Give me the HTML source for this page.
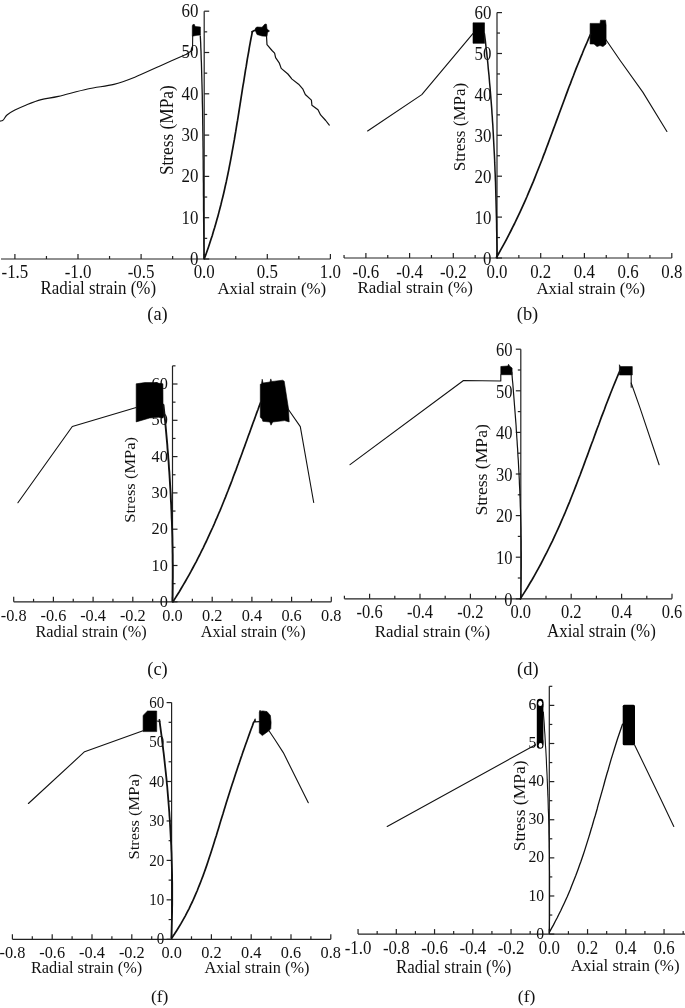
<!DOCTYPE html>
<html><head><meta charset="utf-8"><style>
html,body{margin:0;padding:0;background:#fff;}
svg{display:block;}
text{font-family:'Liberation Serif','Times New Roman',serif;fill:#111;}
</style></head><body>
<svg width="685" height="1008" viewBox="0 0 685 1008">
<rect width="685" height="1008" fill="#fff"/>
<line x1="1.02" y1="259.00" x2="330.40" y2="259.00" stroke="#222" stroke-width="1.2"/>
<line x1="14.90" y1="259.00" x2="14.90" y2="254.00" stroke="#222" stroke-width="1.2"/>
<line x1="46.45" y1="259.00" x2="46.45" y2="256.00" stroke="#222" stroke-width="1.2"/>
<line x1="78.00" y1="259.00" x2="78.00" y2="254.00" stroke="#222" stroke-width="1.2"/>
<line x1="109.55" y1="259.00" x2="109.55" y2="256.00" stroke="#222" stroke-width="1.2"/>
<line x1="141.10" y1="259.00" x2="141.10" y2="254.00" stroke="#222" stroke-width="1.2"/>
<line x1="172.65" y1="259.00" x2="172.65" y2="256.00" stroke="#222" stroke-width="1.2"/>
<line x1="204.20" y1="259.00" x2="204.20" y2="254.00" stroke="#222" stroke-width="1.2"/>
<line x1="235.75" y1="259.00" x2="235.75" y2="256.00" stroke="#222" stroke-width="1.2"/>
<line x1="267.30" y1="259.00" x2="267.30" y2="254.00" stroke="#222" stroke-width="1.2"/>
<line x1="298.85" y1="259.00" x2="298.85" y2="256.00" stroke="#222" stroke-width="1.2"/>
<line x1="330.40" y1="259.00" x2="330.40" y2="254.00" stroke="#222" stroke-width="1.2"/>
<line x1="204.20" y1="259.00" x2="204.20" y2="11.20" stroke="#222" stroke-width="1.2"/>
<line x1="204.20" y1="259.00" x2="209.20" y2="259.00" stroke="#222" stroke-width="1.2"/>
<line x1="204.20" y1="238.35" x2="207.20" y2="238.35" stroke="#222" stroke-width="1.2"/>
<line x1="204.20" y1="217.70" x2="209.20" y2="217.70" stroke="#222" stroke-width="1.2"/>
<line x1="204.20" y1="197.05" x2="207.20" y2="197.05" stroke="#222" stroke-width="1.2"/>
<line x1="204.20" y1="176.40" x2="209.20" y2="176.40" stroke="#222" stroke-width="1.2"/>
<line x1="204.20" y1="155.75" x2="207.20" y2="155.75" stroke="#222" stroke-width="1.2"/>
<line x1="204.20" y1="135.10" x2="209.20" y2="135.10" stroke="#222" stroke-width="1.2"/>
<line x1="204.20" y1="114.45" x2="207.20" y2="114.45" stroke="#222" stroke-width="1.2"/>
<line x1="204.20" y1="93.80" x2="209.20" y2="93.80" stroke="#222" stroke-width="1.2"/>
<line x1="204.20" y1="73.15" x2="207.20" y2="73.15" stroke="#222" stroke-width="1.2"/>
<line x1="204.20" y1="52.50" x2="209.20" y2="52.50" stroke="#222" stroke-width="1.2"/>
<line x1="204.20" y1="31.85" x2="207.20" y2="31.85" stroke="#222" stroke-width="1.2"/>
<line x1="204.20" y1="11.20" x2="209.20" y2="11.20" stroke="#222" stroke-width="1.2"/>
<text x="0" y="0" transform="translate(14.90,277.70) scale(1,1.11)" font-size="16.9" text-anchor="middle">-1.5</text>
<text x="0" y="0" transform="translate(78.00,277.70) scale(1,1.11)" font-size="16.9" text-anchor="middle">-1.0</text>
<text x="0" y="0" transform="translate(141.10,277.70) scale(1,1.11)" font-size="16.9" text-anchor="middle">-0.5</text>
<text x="0" y="0" transform="translate(204.20,277.70) scale(1,1.11)" font-size="16.9" text-anchor="middle">0.0</text>
<text x="0" y="0" transform="translate(267.30,277.70) scale(1,1.11)" font-size="16.9" text-anchor="middle">0.5</text>
<text x="0" y="0" transform="translate(330.40,277.70) scale(1,1.11)" font-size="16.9" text-anchor="middle">1.0</text>
<text x="0" y="0" transform="translate(198.50,264.90) scale(1,1.11)" font-size="16.9" text-anchor="end">0</text>
<text x="0" y="0" transform="translate(198.50,223.60) scale(1,1.11)" font-size="16.9" text-anchor="end">10</text>
<text x="0" y="0" transform="translate(198.50,182.30) scale(1,1.11)" font-size="16.9" text-anchor="end">20</text>
<text x="0" y="0" transform="translate(198.50,141.00) scale(1,1.11)" font-size="16.9" text-anchor="end">30</text>
<text x="0" y="0" transform="translate(198.50,99.70) scale(1,1.11)" font-size="16.9" text-anchor="end">40</text>
<text x="0" y="0" transform="translate(198.50,58.40) scale(1,1.11)" font-size="16.9" text-anchor="end">50</text>
<text x="0" y="0" transform="translate(198.50,17.10) scale(1,1.11)" font-size="16.9" text-anchor="end">60</text>
<text x="0" y="0" transform="translate(40.60,294.20) scale(1,1.07)" font-size="16.9" text-anchor="start">Radial strain (%)</text>
<text x="217.40" y="293.80" font-size="16.9" text-anchor="start">Axial strain (%)</text>
<text x="0" y="0" transform="translate(173.00,130.20) rotate(-90) scale(1,1.06)" font-size="17.3" text-anchor="middle">Stress (MPa)</text>
<text x="157.50" y="319.90" font-size="18.4" text-anchor="middle">(a)</text>
<line x1="344.05" y1="258.00" x2="671.80" y2="258.00" stroke="#222" stroke-width="1.2"/>
<line x1="344.05" y1="258.00" x2="344.05" y2="255.00" stroke="#222" stroke-width="1.2"/>
<line x1="365.90" y1="258.00" x2="365.90" y2="253.00" stroke="#222" stroke-width="1.2"/>
<line x1="387.75" y1="258.00" x2="387.75" y2="255.00" stroke="#222" stroke-width="1.2"/>
<line x1="409.60" y1="258.00" x2="409.60" y2="253.00" stroke="#222" stroke-width="1.2"/>
<line x1="431.45" y1="258.00" x2="431.45" y2="255.00" stroke="#222" stroke-width="1.2"/>
<line x1="453.30" y1="258.00" x2="453.30" y2="253.00" stroke="#222" stroke-width="1.2"/>
<line x1="475.15" y1="258.00" x2="475.15" y2="255.00" stroke="#222" stroke-width="1.2"/>
<line x1="497.00" y1="258.00" x2="497.00" y2="253.00" stroke="#222" stroke-width="1.2"/>
<line x1="518.85" y1="258.00" x2="518.85" y2="255.00" stroke="#222" stroke-width="1.2"/>
<line x1="540.70" y1="258.00" x2="540.70" y2="253.00" stroke="#222" stroke-width="1.2"/>
<line x1="562.55" y1="258.00" x2="562.55" y2="255.00" stroke="#222" stroke-width="1.2"/>
<line x1="584.40" y1="258.00" x2="584.40" y2="253.00" stroke="#222" stroke-width="1.2"/>
<line x1="606.25" y1="258.00" x2="606.25" y2="255.00" stroke="#222" stroke-width="1.2"/>
<line x1="628.10" y1="258.00" x2="628.10" y2="253.00" stroke="#222" stroke-width="1.2"/>
<line x1="649.95" y1="258.00" x2="649.95" y2="255.00" stroke="#222" stroke-width="1.2"/>
<line x1="671.80" y1="258.00" x2="671.80" y2="253.00" stroke="#222" stroke-width="1.2"/>
<line x1="497.00" y1="258.00" x2="497.00" y2="12.60" stroke="#222" stroke-width="1.2"/>
<line x1="497.00" y1="258.00" x2="502.00" y2="258.00" stroke="#222" stroke-width="1.2"/>
<line x1="497.00" y1="237.55" x2="500.00" y2="237.55" stroke="#222" stroke-width="1.2"/>
<line x1="497.00" y1="217.10" x2="502.00" y2="217.10" stroke="#222" stroke-width="1.2"/>
<line x1="497.00" y1="196.65" x2="500.00" y2="196.65" stroke="#222" stroke-width="1.2"/>
<line x1="497.00" y1="176.20" x2="502.00" y2="176.20" stroke="#222" stroke-width="1.2"/>
<line x1="497.00" y1="155.75" x2="500.00" y2="155.75" stroke="#222" stroke-width="1.2"/>
<line x1="497.00" y1="135.30" x2="502.00" y2="135.30" stroke="#222" stroke-width="1.2"/>
<line x1="497.00" y1="114.85" x2="500.00" y2="114.85" stroke="#222" stroke-width="1.2"/>
<line x1="497.00" y1="94.40" x2="502.00" y2="94.40" stroke="#222" stroke-width="1.2"/>
<line x1="497.00" y1="73.95" x2="500.00" y2="73.95" stroke="#222" stroke-width="1.2"/>
<line x1="497.00" y1="53.50" x2="502.00" y2="53.50" stroke="#222" stroke-width="1.2"/>
<line x1="497.00" y1="33.05" x2="500.00" y2="33.05" stroke="#222" stroke-width="1.2"/>
<line x1="497.00" y1="12.60" x2="502.00" y2="12.60" stroke="#222" stroke-width="1.2"/>
<text x="0" y="0" transform="translate(365.90,277.50) scale(1,1.11)" font-size="16.9" text-anchor="middle">-0.6</text>
<text x="0" y="0" transform="translate(409.60,277.50) scale(1,1.11)" font-size="16.9" text-anchor="middle">-0.4</text>
<text x="0" y="0" transform="translate(453.30,277.50) scale(1,1.11)" font-size="16.9" text-anchor="middle">-0.2</text>
<text x="0" y="0" transform="translate(497.00,277.50) scale(1,1.11)" font-size="16.9" text-anchor="middle">0.0</text>
<text x="0" y="0" transform="translate(540.70,277.50) scale(1,1.11)" font-size="16.9" text-anchor="middle">0.2</text>
<text x="0" y="0" transform="translate(584.40,277.50) scale(1,1.11)" font-size="16.9" text-anchor="middle">0.4</text>
<text x="0" y="0" transform="translate(628.10,277.50) scale(1,1.11)" font-size="16.9" text-anchor="middle">0.6</text>
<text x="0" y="0" transform="translate(671.80,277.50) scale(1,1.11)" font-size="16.9" text-anchor="middle">0.8</text>
<text x="0" y="0" transform="translate(491.40,264.70) scale(1,1.11)" font-size="16.9" text-anchor="end">0</text>
<text x="0" y="0" transform="translate(491.40,223.80) scale(1,1.11)" font-size="16.9" text-anchor="end">10</text>
<text x="0" y="0" transform="translate(491.40,182.90) scale(1,1.11)" font-size="16.9" text-anchor="end">20</text>
<text x="0" y="0" transform="translate(491.40,142.00) scale(1,1.11)" font-size="16.9" text-anchor="end">30</text>
<text x="0" y="0" transform="translate(491.40,101.10) scale(1,1.11)" font-size="16.9" text-anchor="end">40</text>
<text x="0" y="0" transform="translate(491.40,60.20) scale(1,1.11)" font-size="16.9" text-anchor="end">50</text>
<text x="0" y="0" transform="translate(491.40,19.30) scale(1,1.11)" font-size="16.9" text-anchor="end">60</text>
<text x="0" y="0" transform="translate(357.60,292.90) scale(1,1.03)" font-size="16.9" text-anchor="start">Radial strain (%)</text>
<text x="0" y="0" transform="translate(536.40,293.80) scale(1,1.03)" font-size="16.9" text-anchor="start">Axial strain (%)</text>
<text x="0" y="0" transform="translate(464.60,127.00) rotate(-90) scale(1,0.98)" font-size="17.0" text-anchor="middle">Stress (MPa)</text>
<text x="527.50" y="319.90" font-size="18.4" text-anchor="middle">(b)</text>
<line x1="13.70" y1="601.80" x2="331.30" y2="601.80" stroke="#222" stroke-width="1.2"/>
<line x1="13.70" y1="601.80" x2="13.70" y2="596.80" stroke="#222" stroke-width="1.2"/>
<line x1="33.55" y1="601.80" x2="33.55" y2="598.80" stroke="#222" stroke-width="1.2"/>
<line x1="53.40" y1="601.80" x2="53.40" y2="596.80" stroke="#222" stroke-width="1.2"/>
<line x1="73.25" y1="601.80" x2="73.25" y2="598.80" stroke="#222" stroke-width="1.2"/>
<line x1="93.10" y1="601.80" x2="93.10" y2="596.80" stroke="#222" stroke-width="1.2"/>
<line x1="112.95" y1="601.80" x2="112.95" y2="598.80" stroke="#222" stroke-width="1.2"/>
<line x1="132.80" y1="601.80" x2="132.80" y2="596.80" stroke="#222" stroke-width="1.2"/>
<line x1="152.65" y1="601.80" x2="152.65" y2="598.80" stroke="#222" stroke-width="1.2"/>
<line x1="172.50" y1="601.80" x2="172.50" y2="596.80" stroke="#222" stroke-width="1.2"/>
<line x1="192.35" y1="601.80" x2="192.35" y2="598.80" stroke="#222" stroke-width="1.2"/>
<line x1="212.20" y1="601.80" x2="212.20" y2="596.80" stroke="#222" stroke-width="1.2"/>
<line x1="232.05" y1="601.80" x2="232.05" y2="598.80" stroke="#222" stroke-width="1.2"/>
<line x1="251.90" y1="601.80" x2="251.90" y2="596.80" stroke="#222" stroke-width="1.2"/>
<line x1="271.75" y1="601.80" x2="271.75" y2="598.80" stroke="#222" stroke-width="1.2"/>
<line x1="291.60" y1="601.80" x2="291.60" y2="596.80" stroke="#222" stroke-width="1.2"/>
<line x1="311.45" y1="601.80" x2="311.45" y2="598.80" stroke="#222" stroke-width="1.2"/>
<line x1="331.30" y1="601.80" x2="331.30" y2="596.80" stroke="#222" stroke-width="1.2"/>
<line x1="172.50" y1="601.80" x2="172.50" y2="365.85" stroke="#222" stroke-width="1.2"/>
<line x1="172.50" y1="601.80" x2="177.50" y2="601.80" stroke="#222" stroke-width="1.2"/>
<line x1="172.50" y1="583.65" x2="175.50" y2="583.65" stroke="#222" stroke-width="1.2"/>
<line x1="172.50" y1="565.50" x2="177.50" y2="565.50" stroke="#222" stroke-width="1.2"/>
<line x1="172.50" y1="547.35" x2="175.50" y2="547.35" stroke="#222" stroke-width="1.2"/>
<line x1="172.50" y1="529.20" x2="177.50" y2="529.20" stroke="#222" stroke-width="1.2"/>
<line x1="172.50" y1="511.05" x2="175.50" y2="511.05" stroke="#222" stroke-width="1.2"/>
<line x1="172.50" y1="492.90" x2="177.50" y2="492.90" stroke="#222" stroke-width="1.2"/>
<line x1="172.50" y1="474.75" x2="175.50" y2="474.75" stroke="#222" stroke-width="1.2"/>
<line x1="172.50" y1="456.60" x2="177.50" y2="456.60" stroke="#222" stroke-width="1.2"/>
<line x1="172.50" y1="438.45" x2="175.50" y2="438.45" stroke="#222" stroke-width="1.2"/>
<line x1="172.50" y1="420.30" x2="177.50" y2="420.30" stroke="#222" stroke-width="1.2"/>
<line x1="172.50" y1="402.15" x2="175.50" y2="402.15" stroke="#222" stroke-width="1.2"/>
<line x1="172.50" y1="384.00" x2="177.50" y2="384.00" stroke="#222" stroke-width="1.2"/>
<line x1="172.50" y1="365.85" x2="175.50" y2="365.85" stroke="#222" stroke-width="1.2"/>
<text x="13.70" y="620.80" font-size="16.3" text-anchor="middle">-0.8</text>
<text x="53.40" y="620.80" font-size="16.3" text-anchor="middle">-0.6</text>
<text x="93.10" y="620.80" font-size="16.3" text-anchor="middle">-0.4</text>
<text x="132.80" y="620.80" font-size="16.3" text-anchor="middle">-0.2</text>
<text x="172.50" y="620.80" font-size="16.3" text-anchor="middle">0.0</text>
<text x="212.20" y="620.80" font-size="16.3" text-anchor="middle">0.2</text>
<text x="251.90" y="620.80" font-size="16.3" text-anchor="middle">0.4</text>
<text x="291.60" y="620.80" font-size="16.3" text-anchor="middle">0.6</text>
<text x="331.30" y="620.80" font-size="16.3" text-anchor="middle">0.8</text>
<text x="167.90" y="606.80" font-size="16.3" text-anchor="end">0</text>
<text x="167.90" y="570.50" font-size="16.3" text-anchor="end">10</text>
<text x="167.90" y="534.20" font-size="16.3" text-anchor="end">20</text>
<text x="167.90" y="497.90" font-size="16.3" text-anchor="end">30</text>
<text x="167.90" y="461.60" font-size="16.3" text-anchor="end">40</text>
<text x="167.90" y="425.30" font-size="16.3" text-anchor="end">50</text>
<text x="167.90" y="389.00" font-size="16.3" text-anchor="end">60</text>
<text x="35.50" y="636.60" font-size="16.3" text-anchor="start">Radial strain (%)</text>
<text x="200.70" y="636.60" font-size="16.3" text-anchor="start">Axial strain (%)</text>
<text x="0" y="0" transform="translate(135.00,479.80) rotate(-90) scale(1,0.93)" font-size="16.5" text-anchor="middle">Stress (MPa)</text>
<text x="157.50" y="675.00" font-size="18.4" text-anchor="middle">(c)</text>
<line x1="344.40" y1="598.80" x2="672.00" y2="598.80" stroke="#222" stroke-width="1.2"/>
<line x1="344.40" y1="598.80" x2="344.40" y2="595.80" stroke="#222" stroke-width="1.2"/>
<line x1="369.60" y1="598.80" x2="369.60" y2="593.80" stroke="#222" stroke-width="1.2"/>
<line x1="394.80" y1="598.80" x2="394.80" y2="595.80" stroke="#222" stroke-width="1.2"/>
<line x1="420.00" y1="598.80" x2="420.00" y2="593.80" stroke="#222" stroke-width="1.2"/>
<line x1="445.20" y1="598.80" x2="445.20" y2="595.80" stroke="#222" stroke-width="1.2"/>
<line x1="470.40" y1="598.80" x2="470.40" y2="593.80" stroke="#222" stroke-width="1.2"/>
<line x1="495.60" y1="598.80" x2="495.60" y2="595.80" stroke="#222" stroke-width="1.2"/>
<line x1="520.80" y1="598.80" x2="520.80" y2="593.80" stroke="#222" stroke-width="1.2"/>
<line x1="546.00" y1="598.80" x2="546.00" y2="595.80" stroke="#222" stroke-width="1.2"/>
<line x1="571.20" y1="598.80" x2="571.20" y2="593.80" stroke="#222" stroke-width="1.2"/>
<line x1="596.40" y1="598.80" x2="596.40" y2="595.80" stroke="#222" stroke-width="1.2"/>
<line x1="621.60" y1="598.80" x2="621.60" y2="593.80" stroke="#222" stroke-width="1.2"/>
<line x1="646.80" y1="598.80" x2="646.80" y2="595.80" stroke="#222" stroke-width="1.2"/>
<line x1="672.00" y1="598.80" x2="672.00" y2="593.80" stroke="#222" stroke-width="1.2"/>
<line x1="520.80" y1="598.80" x2="520.80" y2="349.20" stroke="#222" stroke-width="1.2"/>
<line x1="520.80" y1="598.80" x2="515.80" y2="598.80" stroke="#222" stroke-width="1.2"/>
<line x1="520.80" y1="578.00" x2="517.80" y2="578.00" stroke="#222" stroke-width="1.2"/>
<line x1="520.80" y1="557.20" x2="515.80" y2="557.20" stroke="#222" stroke-width="1.2"/>
<line x1="520.80" y1="536.40" x2="517.80" y2="536.40" stroke="#222" stroke-width="1.2"/>
<line x1="520.80" y1="515.60" x2="515.80" y2="515.60" stroke="#222" stroke-width="1.2"/>
<line x1="520.80" y1="494.80" x2="517.80" y2="494.80" stroke="#222" stroke-width="1.2"/>
<line x1="520.80" y1="474.00" x2="515.80" y2="474.00" stroke="#222" stroke-width="1.2"/>
<line x1="520.80" y1="453.20" x2="517.80" y2="453.20" stroke="#222" stroke-width="1.2"/>
<line x1="520.80" y1="432.40" x2="515.80" y2="432.40" stroke="#222" stroke-width="1.2"/>
<line x1="520.80" y1="411.60" x2="517.80" y2="411.60" stroke="#222" stroke-width="1.2"/>
<line x1="520.80" y1="390.80" x2="515.80" y2="390.80" stroke="#222" stroke-width="1.2"/>
<line x1="520.80" y1="370.00" x2="517.80" y2="370.00" stroke="#222" stroke-width="1.2"/>
<line x1="520.80" y1="349.20" x2="515.80" y2="349.20" stroke="#222" stroke-width="1.2"/>
<text x="0" y="0" transform="translate(369.60,618.20) scale(1,1.08)" font-size="16.5" text-anchor="middle">-0.6</text>
<text x="0" y="0" transform="translate(420.00,618.20) scale(1,1.08)" font-size="16.5" text-anchor="middle">-0.4</text>
<text x="0" y="0" transform="translate(470.40,618.20) scale(1,1.08)" font-size="16.5" text-anchor="middle">-0.2</text>
<text x="0" y="0" transform="translate(520.80,618.20) scale(1,1.08)" font-size="16.5" text-anchor="middle">0.0</text>
<text x="0" y="0" transform="translate(571.20,618.20) scale(1,1.08)" font-size="16.5" text-anchor="middle">0.2</text>
<text x="0" y="0" transform="translate(621.60,618.20) scale(1,1.08)" font-size="16.5" text-anchor="middle">0.4</text>
<text x="0" y="0" transform="translate(672.00,618.20) scale(1,1.08)" font-size="16.5" text-anchor="middle">0.6</text>
<text x="0" y="0" transform="translate(512.60,605.60) scale(1,1.08)" font-size="16.5" text-anchor="end">0</text>
<text x="0" y="0" transform="translate(512.60,564.00) scale(1,1.08)" font-size="16.5" text-anchor="end">10</text>
<text x="0" y="0" transform="translate(512.60,522.40) scale(1,1.08)" font-size="16.5" text-anchor="end">20</text>
<text x="0" y="0" transform="translate(512.60,480.80) scale(1,1.08)" font-size="16.5" text-anchor="end">30</text>
<text x="0" y="0" transform="translate(512.60,439.20) scale(1,1.08)" font-size="16.5" text-anchor="end">40</text>
<text x="0" y="0" transform="translate(512.60,397.60) scale(1,1.08)" font-size="16.5" text-anchor="end">50</text>
<text x="0" y="0" transform="translate(512.60,356.00) scale(1,1.08)" font-size="16.5" text-anchor="end">60</text>
<text x="374.80" y="636.80" font-size="16.9" text-anchor="start">Radial strain (%)</text>
<text x="0" y="0" transform="translate(547.00,636.60) scale(1,1.08)" font-size="16.9" text-anchor="start">Axial strain (%)</text>
<text x="0" y="0" transform="translate(486.80,469.90) rotate(-90) scale(1,0.96)" font-size="17.6" text-anchor="middle">Stress (MPa)</text>
<text x="527.85" y="675.00" font-size="18.4" text-anchor="middle">(d)</text>
<line x1="12.40" y1="939.30" x2="330.80" y2="939.30" stroke="#222" stroke-width="1.2"/>
<line x1="12.40" y1="939.30" x2="12.40" y2="934.30" stroke="#222" stroke-width="1.2"/>
<line x1="32.30" y1="939.30" x2="32.30" y2="936.30" stroke="#222" stroke-width="1.2"/>
<line x1="52.20" y1="939.30" x2="52.20" y2="934.30" stroke="#222" stroke-width="1.2"/>
<line x1="72.10" y1="939.30" x2="72.10" y2="936.30" stroke="#222" stroke-width="1.2"/>
<line x1="92.00" y1="939.30" x2="92.00" y2="934.30" stroke="#222" stroke-width="1.2"/>
<line x1="111.90" y1="939.30" x2="111.90" y2="936.30" stroke="#222" stroke-width="1.2"/>
<line x1="131.80" y1="939.30" x2="131.80" y2="934.30" stroke="#222" stroke-width="1.2"/>
<line x1="151.70" y1="939.30" x2="151.70" y2="936.30" stroke="#222" stroke-width="1.2"/>
<line x1="171.60" y1="939.30" x2="171.60" y2="934.30" stroke="#222" stroke-width="1.2"/>
<line x1="191.50" y1="939.30" x2="191.50" y2="936.30" stroke="#222" stroke-width="1.2"/>
<line x1="211.40" y1="939.30" x2="211.40" y2="934.30" stroke="#222" stroke-width="1.2"/>
<line x1="231.30" y1="939.30" x2="231.30" y2="936.30" stroke="#222" stroke-width="1.2"/>
<line x1="251.20" y1="939.30" x2="251.20" y2="934.30" stroke="#222" stroke-width="1.2"/>
<line x1="271.10" y1="939.30" x2="271.10" y2="936.30" stroke="#222" stroke-width="1.2"/>
<line x1="291.00" y1="939.30" x2="291.00" y2="934.30" stroke="#222" stroke-width="1.2"/>
<line x1="310.90" y1="939.30" x2="310.90" y2="936.30" stroke="#222" stroke-width="1.2"/>
<line x1="330.80" y1="939.30" x2="330.80" y2="934.30" stroke="#222" stroke-width="1.2"/>
<line x1="171.60" y1="939.30" x2="171.60" y2="702.60" stroke="#222" stroke-width="1.2"/>
<line x1="171.60" y1="939.30" x2="166.60" y2="939.30" stroke="#222" stroke-width="1.2"/>
<line x1="171.60" y1="919.57" x2="168.60" y2="919.57" stroke="#222" stroke-width="1.2"/>
<line x1="171.60" y1="899.85" x2="166.60" y2="899.85" stroke="#222" stroke-width="1.2"/>
<line x1="171.60" y1="880.12" x2="168.60" y2="880.12" stroke="#222" stroke-width="1.2"/>
<line x1="171.60" y1="860.40" x2="166.60" y2="860.40" stroke="#222" stroke-width="1.2"/>
<line x1="171.60" y1="840.67" x2="168.60" y2="840.67" stroke="#222" stroke-width="1.2"/>
<line x1="171.60" y1="820.95" x2="166.60" y2="820.95" stroke="#222" stroke-width="1.2"/>
<line x1="171.60" y1="801.22" x2="168.60" y2="801.22" stroke="#222" stroke-width="1.2"/>
<line x1="171.60" y1="781.50" x2="166.60" y2="781.50" stroke="#222" stroke-width="1.2"/>
<line x1="171.60" y1="761.77" x2="168.60" y2="761.77" stroke="#222" stroke-width="1.2"/>
<line x1="171.60" y1="742.05" x2="166.60" y2="742.05" stroke="#222" stroke-width="1.2"/>
<line x1="171.60" y1="722.32" x2="168.60" y2="722.32" stroke="#222" stroke-width="1.2"/>
<line x1="171.60" y1="702.60" x2="166.60" y2="702.60" stroke="#222" stroke-width="1.2"/>
<text x="0" y="0" transform="translate(12.40,958.00) scale(1,1.07)" font-size="16.3" text-anchor="middle">-0.8</text>
<text x="0" y="0" transform="translate(52.20,958.00) scale(1,1.07)" font-size="16.3" text-anchor="middle">-0.6</text>
<text x="0" y="0" transform="translate(92.00,958.00) scale(1,1.07)" font-size="16.3" text-anchor="middle">-0.4</text>
<text x="0" y="0" transform="translate(131.80,958.00) scale(1,1.07)" font-size="16.3" text-anchor="middle">-0.2</text>
<text x="0" y="0" transform="translate(171.60,958.00) scale(1,1.07)" font-size="16.3" text-anchor="middle">0.0</text>
<text x="0" y="0" transform="translate(211.40,958.00) scale(1,1.07)" font-size="16.3" text-anchor="middle">0.2</text>
<text x="0" y="0" transform="translate(251.20,958.00) scale(1,1.07)" font-size="16.3" text-anchor="middle">0.4</text>
<text x="0" y="0" transform="translate(291.00,958.00) scale(1,1.07)" font-size="16.3" text-anchor="middle">0.6</text>
<text x="0" y="0" transform="translate(330.80,958.00) scale(1,1.07)" font-size="16.3" text-anchor="middle">0.8</text>
<text x="0" y="0" transform="translate(164.30,944.40) scale(1,1.11)" font-size="15.0" text-anchor="end">0</text>
<text x="0" y="0" transform="translate(164.30,904.95) scale(1,1.11)" font-size="15.0" text-anchor="end">10</text>
<text x="0" y="0" transform="translate(164.30,865.50) scale(1,1.11)" font-size="15.0" text-anchor="end">20</text>
<text x="0" y="0" transform="translate(164.30,826.05) scale(1,1.11)" font-size="15.0" text-anchor="end">30</text>
<text x="0" y="0" transform="translate(164.30,786.60) scale(1,1.11)" font-size="15.0" text-anchor="end">40</text>
<text x="0" y="0" transform="translate(164.30,747.15) scale(1,1.11)" font-size="15.0" text-anchor="end">50</text>
<text x="0" y="0" transform="translate(164.30,707.70) scale(1,1.11)" font-size="15.0" text-anchor="end">60</text>
<text x="31.00" y="972.80" font-size="16.3" text-anchor="start">Radial strain (%)</text>
<text x="204.60" y="972.80" font-size="16.3" text-anchor="start">Axial strain (%)</text>
<text x="0" y="0" transform="translate(139.40,816.60) rotate(-90) scale(1,0.93)" font-size="16.5" text-anchor="middle">Stress (MPa)</text>
<text x="159.70" y="1002.20" font-size="17.6" text-anchor="middle">(f)</text>
<line x1="358.05" y1="934.10" x2="685.09" y2="934.10" stroke="#222" stroke-width="1.2"/>
<line x1="358.05" y1="934.10" x2="358.05" y2="929.10" stroke="#222" stroke-width="1.2"/>
<line x1="377.17" y1="934.10" x2="377.17" y2="931.10" stroke="#222" stroke-width="1.2"/>
<line x1="396.30" y1="934.10" x2="396.30" y2="929.10" stroke="#222" stroke-width="1.2"/>
<line x1="415.42" y1="934.10" x2="415.42" y2="931.10" stroke="#222" stroke-width="1.2"/>
<line x1="434.55" y1="934.10" x2="434.55" y2="929.10" stroke="#222" stroke-width="1.2"/>
<line x1="453.67" y1="934.10" x2="453.67" y2="931.10" stroke="#222" stroke-width="1.2"/>
<line x1="472.80" y1="934.10" x2="472.80" y2="929.10" stroke="#222" stroke-width="1.2"/>
<line x1="491.92" y1="934.10" x2="491.92" y2="931.10" stroke="#222" stroke-width="1.2"/>
<line x1="511.05" y1="934.10" x2="511.05" y2="929.10" stroke="#222" stroke-width="1.2"/>
<line x1="530.17" y1="934.10" x2="530.17" y2="931.10" stroke="#222" stroke-width="1.2"/>
<line x1="549.30" y1="934.10" x2="549.30" y2="929.10" stroke="#222" stroke-width="1.2"/>
<line x1="568.42" y1="934.10" x2="568.42" y2="931.10" stroke="#222" stroke-width="1.2"/>
<line x1="587.55" y1="934.10" x2="587.55" y2="929.10" stroke="#222" stroke-width="1.2"/>
<line x1="606.67" y1="934.10" x2="606.67" y2="931.10" stroke="#222" stroke-width="1.2"/>
<line x1="625.80" y1="934.10" x2="625.80" y2="929.10" stroke="#222" stroke-width="1.2"/>
<line x1="644.92" y1="934.10" x2="644.92" y2="931.10" stroke="#222" stroke-width="1.2"/>
<line x1="664.05" y1="934.10" x2="664.05" y2="929.10" stroke="#222" stroke-width="1.2"/>
<line x1="683.17" y1="934.10" x2="683.17" y2="931.10" stroke="#222" stroke-width="1.2"/>
<line x1="549.30" y1="934.10" x2="549.30" y2="686.32" stroke="#222" stroke-width="1.2"/>
<line x1="549.30" y1="934.10" x2="554.30" y2="934.10" stroke="#222" stroke-width="1.2"/>
<line x1="549.30" y1="915.04" x2="552.30" y2="915.04" stroke="#222" stroke-width="1.2"/>
<line x1="549.30" y1="895.98" x2="554.30" y2="895.98" stroke="#222" stroke-width="1.2"/>
<line x1="549.30" y1="876.92" x2="552.30" y2="876.92" stroke="#222" stroke-width="1.2"/>
<line x1="549.30" y1="857.86" x2="554.30" y2="857.86" stroke="#222" stroke-width="1.2"/>
<line x1="549.30" y1="838.80" x2="552.30" y2="838.80" stroke="#222" stroke-width="1.2"/>
<line x1="549.30" y1="819.74" x2="554.30" y2="819.74" stroke="#222" stroke-width="1.2"/>
<line x1="549.30" y1="800.68" x2="552.30" y2="800.68" stroke="#222" stroke-width="1.2"/>
<line x1="549.30" y1="781.62" x2="554.30" y2="781.62" stroke="#222" stroke-width="1.2"/>
<line x1="549.30" y1="762.56" x2="552.30" y2="762.56" stroke="#222" stroke-width="1.2"/>
<line x1="549.30" y1="743.50" x2="554.30" y2="743.50" stroke="#222" stroke-width="1.2"/>
<line x1="549.30" y1="724.44" x2="552.30" y2="724.44" stroke="#222" stroke-width="1.2"/>
<line x1="549.30" y1="705.38" x2="554.30" y2="705.38" stroke="#222" stroke-width="1.2"/>
<line x1="549.30" y1="686.32" x2="552.30" y2="686.32" stroke="#222" stroke-width="1.2"/>
<text x="0" y="0" transform="translate(358.05,954.40) scale(1,1.11)" font-size="16.9" text-anchor="middle">-1.0</text>
<text x="0" y="0" transform="translate(396.30,954.40) scale(1,1.11)" font-size="16.9" text-anchor="middle">-0.8</text>
<text x="0" y="0" transform="translate(434.55,954.40) scale(1,1.11)" font-size="16.9" text-anchor="middle">-0.6</text>
<text x="0" y="0" transform="translate(472.80,954.40) scale(1,1.11)" font-size="16.9" text-anchor="middle">-0.4</text>
<text x="0" y="0" transform="translate(511.05,954.40) scale(1,1.11)" font-size="16.9" text-anchor="middle">-0.2</text>
<text x="0" y="0" transform="translate(549.30,954.40) scale(1,1.11)" font-size="16.9" text-anchor="middle">0.0</text>
<text x="0" y="0" transform="translate(587.55,954.40) scale(1,1.11)" font-size="16.9" text-anchor="middle">0.2</text>
<text x="0" y="0" transform="translate(625.80,954.40) scale(1,1.11)" font-size="16.9" text-anchor="middle">0.4</text>
<text x="0" y="0" transform="translate(664.05,954.40) scale(1,1.11)" font-size="16.9" text-anchor="middle">0.6</text>
<text x="0" y="0" transform="translate(544.10,938.70) scale(1,1.11)" font-size="15.7" text-anchor="end">0</text>
<text x="0" y="0" transform="translate(544.10,900.58) scale(1,1.11)" font-size="15.7" text-anchor="end">10</text>
<text x="0" y="0" transform="translate(544.10,862.46) scale(1,1.11)" font-size="15.7" text-anchor="end">20</text>
<text x="0" y="0" transform="translate(544.10,824.34) scale(1,1.11)" font-size="15.7" text-anchor="end">30</text>
<text x="0" y="0" transform="translate(544.10,786.22) scale(1,1.11)" font-size="15.7" text-anchor="end">40</text>
<text x="0" y="0" transform="translate(544.10,748.10) scale(1,1.11)" font-size="15.7" text-anchor="end">50</text>
<text x="0" y="0" transform="translate(544.10,709.98) scale(1,1.11)" font-size="15.7" text-anchor="end">60</text>
<text x="0" y="0" transform="translate(396.00,973.10) scale(1,1.06)" font-size="16.9" text-anchor="start">Radial strain (%)</text>
<text x="570.70" y="970.70" font-size="16.9" text-anchor="start">Axial strain (%)</text>
<text x="0" y="0" transform="translate(525.20,805.90) rotate(-90) scale(1,0.93)" font-size="17.5" text-anchor="middle">Stress (MPa)</text>
<text x="526.60" y="1002.20" font-size="17.6" text-anchor="middle">(f)</text>
<polyline points="204.0,259.0 203.9,255.2 203.9,251.4 203.9,247.7 203.8,243.9 203.8,240.1 203.8,236.3 203.7,232.5 203.7,228.8 203.7,225.0 203.6,221.2 203.6,217.4 203.6,213.6 203.5,209.9 203.5,206.1 203.5,202.3 203.5,198.5 203.4,194.7 203.4,191.0 203.4,187.2 203.4,183.4 203.3,179.6 203.3,175.8 203.3,172.1 203.2,168.3 203.2,164.5 203.2,160.7 203.1,156.9 203.1,153.2 203.1,149.4 203.0,145.6 203.0,141.8 202.9,138.1 202.9,134.3 202.8,130.5 202.8,126.7 202.7,122.9 202.7,119.2 202.6,115.4 202.6,111.6 202.5,107.8 202.4,104.0 202.3,100.3 202.3,96.5 202.2,92.7 202.1,88.9 202.0,85.1 201.9,81.4 201.8,77.6 201.7,73.8 201.6,70.0 201.5,66.2 201.4,62.5 201.2,58.7 201.1,54.9 201.0,51.1 200.8,47.3 200.7,43.6 200.5,39.8 200.3,36.0" fill="none" stroke="#111" stroke-width="1.3" stroke-linejoin="round" stroke-linecap="round"/>
<polygon points="192.3,36.2 192.3,25.8 193.0,24.4 194.5,24.6 195.0,26.5 200.4,27.0 200.4,35.0 197.0,35.3" fill="#000" stroke="#000" stroke-width="0.6" stroke-linejoin="round"/>
<polyline points="192.7,36.0 192.5,50.0 187.0,53.9" fill="none" stroke="#111" stroke-width="1.1" stroke-linejoin="round" stroke-linecap="round"/>
<path d="M187.00,53.90 C182.60,55.87 169.38,61.78 160.60,65.70 C151.82,69.62 142.08,74.28 134.30,77.40 C126.52,80.52 121.68,82.47 113.90,84.40 C106.12,86.33 96.85,87.00 87.60,89.00 C78.35,91.00 66.13,94.63 58.40,96.40 C50.67,98.17 46.55,98.18 41.20,99.60 C35.85,101.02 30.68,103.15 26.30,104.90 C21.92,106.65 18.12,108.42 14.90,110.10 C11.68,111.78 8.97,113.32 7.00,115.00 C5.03,116.68 4.27,119.18 3.10,120.20 C1.93,121.22 0.52,120.95 0.00,121.10" fill="none" stroke="#111" stroke-width="1.1" stroke-linejoin="round" stroke-linecap="round"/>
<polyline points="204.4,258.5 205.8,254.7 207.2,250.8 208.5,247.0 209.8,243.1 211.0,239.3 212.3,235.4 213.4,231.6 214.6,227.8 215.7,223.9 216.8,220.1 217.9,216.2 218.9,212.4 219.9,208.5 220.9,204.7 221.8,200.9 222.8,197.0 223.7,193.2 224.6,189.3 225.4,185.5 226.3,181.7 227.1,177.8 227.9,174.0 228.7,170.1 229.4,166.3 230.2,162.4 230.9,158.6 231.6,154.8 232.3,150.9 233.0,147.1 233.7,143.2 234.4,139.4 235.0,135.5 235.7,131.7 236.3,127.9 236.9,124.0 237.6,120.2 238.2,116.3 238.8,112.5 239.4,108.6 240.0,104.8 240.6,101.0 241.2,97.1 241.8,93.3 242.4,89.4 243.0,85.6 243.7,81.8 244.3,77.9 244.9,74.1 245.5,70.2 246.2,66.4 246.8,62.5 247.4,58.7 248.1,54.9 248.8,51.0 249.4,47.2 250.1,43.3 250.8,39.5 251.6,35.6 252.3,31.8" fill="none" stroke="#111" stroke-width="1.7" stroke-linejoin="round" stroke-linecap="round"/>
<polyline points="252.1,31.8 253.4,31.1 255.5,30.0" fill="none" stroke="#111" stroke-width="1.7" stroke-linejoin="round" stroke-linecap="round"/>
<polygon points="255.5,28.0 257.0,27.0 262.0,27.3 265.0,24.0 266.5,24.3 267.0,29.0 269.5,31.0 267.5,32.5 267.0,36.3 262.0,36.0 257.0,34.5 255.5,31.0" fill="#000" stroke="#000" stroke-width="0.6" stroke-linejoin="round"/>
<polyline points="266.5,36.0 267.0,44.7 272.0,50.5 274.6,53.1 275.6,57.7 279.2,62.8 281.2,68.4 287.9,74.0 292.0,79.1 298.6,84.2 302.7,88.8 305.3,94.5 311.4,100.1 311.9,105.2 318.0,109.8 320.6,114.9 325.7,120.5 329.3,125.1" fill="none" stroke="#111" stroke-width="1.2" stroke-linejoin="round" stroke-linecap="round"/>
<polygon points="473.0,22.8 484.5,22.8 484.5,43.3 473.0,43.3" fill="#000" stroke="#000" stroke-width="0.6" stroke-linejoin="round"/>
<polyline points="473.1,33.4 421.8,94.6 367.6,131.0" fill="none" stroke="#111" stroke-width="1.1" stroke-linejoin="round" stroke-linecap="round"/>
<polyline points="484.4,33.6 484.9,37.4 485.4,41.2 485.8,45.0 486.2,48.8 486.7,52.6 487.1,56.4 487.5,60.2 487.9,64.0 488.2,67.8 488.6,71.6 489.0,75.4 489.3,79.2 489.6,83.0 490.0,86.8 490.3,90.7 490.6,94.5 490.9,98.3 491.2,102.1 491.5,105.9 491.8,109.7 492.0,113.5 492.3,117.3 492.5,121.1 492.8,124.9 493.0,128.7 493.2,132.5 493.4,136.3 493.6,140.1 493.8,143.9 494.0,147.7 494.2,151.5 494.4,155.3 494.6,159.1 494.7,162.9 494.9,166.7 495.0,170.5 495.2,174.3 495.3,178.1 495.5,181.9 495.6,185.7 495.7,189.5 495.8,193.3 495.9,197.1 496.0,200.9 496.1,204.8 496.2,208.6 496.3,212.4 496.4,216.2 496.5,220.0 496.6,223.8 496.6,227.6 496.7,231.4 496.8,235.2 496.8,239.0 496.9,242.8 497.0,246.6 497.0,250.4 497.1,254.2 497.1,258.0" fill="none" stroke="#111" stroke-width="1.5" stroke-linejoin="round" stroke-linecap="round"/>
<polygon points="590.1,23.4 600.0,23.4 600.5,20.2 605.5,20.2 606.1,25.0 606.1,44.0 603.0,46.6 600.0,45.5 597.0,46.6 594.0,44.0 590.1,44.0" fill="#000" stroke="#000" stroke-width="0.6" stroke-linejoin="round"/>
<polyline points="496.4,257.5 498.6,253.7 500.7,249.9 502.8,246.2 504.9,242.4 506.9,238.6 508.8,234.8 510.8,231.0 512.7,227.2 514.6,223.5 516.4,219.7 518.2,215.9 520.0,212.1 521.7,208.3 523.4,204.6 525.1,200.8 526.8,197.0 528.4,193.2 530.0,189.4 531.6,185.7 533.2,181.9 534.7,178.1 536.2,174.3 537.7,170.5 539.2,166.7 540.7,163.0 542.2,159.2 543.6,155.4 545.1,151.6 546.5,147.8 547.9,144.1 549.3,140.3 550.7,136.5 552.1,132.7 553.5,128.9 554.9,125.2 556.3,121.4 557.7,117.6 559.1,113.8 560.5,110.0 561.9,106.2 563.3,102.5 564.7,98.7 566.1,94.9 567.5,91.1 568.9,87.3 570.4,83.6 571.8,79.8 573.3,76.0 574.7,72.2 576.2,68.4 577.7,64.7 579.3,60.9 580.8,57.1 582.4,53.3 583.9,49.5 585.6,45.7 587.2,42.0 588.8,38.2 590.5,34.4" fill="none" stroke="#111" stroke-width="1.7" stroke-linejoin="round" stroke-linecap="round"/>
<polyline points="605.8,39.5 620.0,60.2 642.8,92.1 666.9,131.5" fill="none" stroke="#111" stroke-width="1.1" stroke-linejoin="round" stroke-linecap="round"/>
<polygon points="136.2,383.8 145.0,382.6 152.0,382.6 162.9,383.8 163.0,402.9 164.8,414.7 162.9,418.0 158.3,417.3 149.7,418.0 136.2,421.9" fill="#000" stroke="#000" stroke-width="0.6" stroke-linejoin="round"/>
<polyline points="136.2,407.5 72.3,426.5 17.9,502.7" fill="none" stroke="#111" stroke-width="1.1" stroke-linejoin="round" stroke-linecap="round"/>
<polyline points="163.5,405.0 163.8,408.3 164.2,411.7 164.5,415.0 164.8,418.3 165.2,421.7 165.5,425.0 165.8,428.3 166.1,431.6 166.4,435.0 166.7,438.3 167.0,441.6 167.3,445.0 167.5,448.3 167.8,451.6 168.1,455.0 168.3,458.3 168.6,461.6 168.8,464.9 169.0,468.3 169.3,471.6 169.5,474.9 169.7,478.3 169.9,481.6 170.1,484.9 170.3,488.3 170.5,491.6 170.7,494.9 170.8,498.3 171.0,501.6 171.2,504.9 171.3,508.2 171.5,511.6 171.6,514.9 171.7,518.2 171.9,521.6 172.0,524.9 172.1,528.2 172.2,531.6 172.3,534.9 172.4,538.2 172.4,541.6 172.5,544.9 172.6,548.2 172.6,551.5 172.7,554.9 172.7,558.2 172.7,561.5 172.8,564.9 172.8,568.2 172.8,571.5 172.8,574.9 172.8,578.2 172.7,581.5 172.7,584.8 172.7,588.2 172.6,591.5 172.6,594.8 172.5,598.2 172.5,601.5" fill="none" stroke="#111" stroke-width="1.9" stroke-linejoin="round" stroke-linecap="round"/>
<polygon points="260.3,384.2 261.5,384.0 262.2,379.2 263.0,383.0 270.0,382.0 270.8,378.9 271.6,381.5 274.7,381.2 282.6,380.2 284.2,381.2 288.5,408.8 289.2,421.9 284.6,420.6 272.7,422.0 271.0,425.2 269.8,422.0 262.8,421.3 262.2,419.0 260.3,417.3" fill="#000" stroke="#000" stroke-width="0.6" stroke-linejoin="round"/>
<polyline points="173.0,601.8 175.1,598.4 177.2,595.0 179.3,591.7 181.3,588.3 183.3,584.9 185.3,581.5 187.2,578.2 189.1,574.8 191.0,571.4 192.8,568.0 194.6,564.6 196.4,561.3 198.1,557.9 199.9,554.5 201.5,551.1 203.2,547.8 204.8,544.4 206.5,541.0 208.0,537.6 209.6,534.2 211.1,530.9 212.7,527.5 214.2,524.1 215.6,520.7 217.1,517.4 218.5,514.0 220.0,510.6 221.4,507.2 222.8,503.8 224.1,500.5 225.5,497.1 226.8,493.7 228.2,490.3 229.5,486.9 230.8,483.6 232.1,480.2 233.3,476.8 234.6,473.4 235.9,470.1 237.1,466.7 238.4,463.3 239.6,459.9 240.9,456.5 242.1,453.2 243.3,449.8 244.6,446.4 245.8,443.0 247.0,439.7 248.2,436.3 249.5,432.9 250.7,429.5 251.9,426.1 253.1,422.8 254.4,419.4 255.6,416.0 256.8,412.6 258.1,409.3 259.3,405.9 260.6,402.5" fill="none" stroke="#111" stroke-width="1.7" stroke-linejoin="round" stroke-linecap="round"/>
<polyline points="287.9,408.8 300.3,426.6 313.7,502.5" fill="none" stroke="#111" stroke-width="1.1" stroke-linejoin="round" stroke-linecap="round"/>
<polygon points="500.8,366.5 508.0,366.0 508.5,364.2 509.5,366.0 512.1,368.0 512.1,374.7 500.8,374.7" fill="#000" stroke="#000" stroke-width="0.6" stroke-linejoin="round"/>
<polyline points="500.8,374.7 500.8,381.0 463.5,380.5 350.0,464.6" fill="none" stroke="#111" stroke-width="1.1" stroke-linejoin="round" stroke-linecap="round"/>
<polyline points="511.8,372.0 512.1,375.8 512.4,379.7 512.8,383.5 513.1,387.4 513.4,391.2 513.7,395.1 514.0,398.9 514.3,402.8 514.6,406.6 514.9,410.4 515.2,414.3 515.5,418.1 515.8,422.0 516.1,425.8 516.3,429.7 516.6,433.5 516.8,437.3 517.1,441.2 517.3,445.0 517.6,448.9 517.8,452.7 518.0,456.6 518.3,460.4 518.5,464.3 518.7,468.1 518.9,471.9 519.1,475.8 519.3,479.6 519.4,483.5 519.6,487.3 519.8,491.2 519.9,495.0 520.1,498.9 520.2,502.7 520.3,506.5 520.5,510.4 520.6,514.2 520.7,518.1 520.8,521.9 520.9,525.8 521.0,529.6 521.0,533.5 521.1,537.3 521.2,541.1 521.2,545.0 521.2,548.8 521.3,552.7 521.3,556.5 521.3,560.4 521.3,564.2 521.3,568.0 521.2,571.9 521.2,575.7 521.2,579.6 521.1,583.4 521.0,587.3 521.0,591.1 520.9,595.0 520.8,598.8" fill="none" stroke="#111" stroke-width="1.2" stroke-linejoin="round" stroke-linecap="round"/>
<polygon points="619.4,364.7 620.5,366.6 632.3,366.6 632.3,375.0 619.4,375.0" fill="#000" stroke="#000" stroke-width="0.6" stroke-linejoin="round"/>
<polyline points="631.2,375.0 631.2,387.2" fill="none" stroke="#111" stroke-width="1.1" stroke-linejoin="round" stroke-linecap="round"/>
<polyline points="520.3,598.8 522.8,594.9 525.2,591.1 527.6,587.2 529.9,583.3 532.2,579.5 534.4,575.6 536.6,571.7 538.7,567.8 540.8,564.0 542.8,560.1 544.8,556.2 546.8,552.4 548.7,548.5 550.6,544.6 552.5,540.8 554.3,536.9 556.1,533.0 557.9,529.1 559.6,525.3 561.3,521.4 563.0,517.5 564.7,513.7 566.3,509.8 567.9,505.9 569.5,502.1 571.0,498.2 572.6,494.3 574.1,490.5 575.6,486.6 577.1,482.7 578.6,478.8 580.1,475.0 581.5,471.1 583.0,467.2 584.4,463.4 585.8,459.5 587.3,455.6 588.7,451.8 590.1,447.9 591.5,444.0 593.0,440.2 594.4,436.3 595.8,432.4 597.2,428.5 598.7,424.7 600.1,420.8 601.5,416.9 603.0,413.1 604.5,409.2 605.9,405.3 607.4,401.5 608.9,397.6 610.4,393.7 612.0,389.8 613.5,386.0 615.1,382.1 616.7,378.2 618.3,374.4 620.0,370.5" fill="none" stroke="#111" stroke-width="1.7" stroke-linejoin="round" stroke-linecap="round"/>
<polyline points="631.2,383.0 640.0,407.9 659.1,464.8" fill="none" stroke="#111" stroke-width="1.1" stroke-linejoin="round" stroke-linecap="round"/>
<polygon points="143.1,715.4 147.5,711.0 156.7,711.0 156.7,731.6 143.1,731.6" fill="#000" stroke="#000" stroke-width="0.6" stroke-linejoin="round"/>
<polyline points="156.7,721.0 160.0,721.5" fill="none" stroke="#111" stroke-width="1.0" stroke-linejoin="round" stroke-linecap="round"/>
<polyline points="143.0,730.7 84.6,751.7 28.4,803.5" fill="none" stroke="#111" stroke-width="1.1" stroke-linejoin="round" stroke-linecap="round"/>
<polyline points="159.4,720.0 159.9,723.7 160.4,727.4 160.9,731.1 161.4,734.8 161.9,738.5 162.3,742.2 162.8,745.9 163.2,749.6 163.7,753.3 164.1,756.9 164.5,760.6 164.9,764.3 165.3,768.0 165.7,771.7 166.1,775.4 166.5,779.1 166.8,782.8 167.2,786.5 167.5,790.2 167.8,793.9 168.1,797.6 168.4,801.3 168.7,805.0 169.0,808.7 169.3,812.4 169.5,816.1 169.8,819.8 170.0,823.5 170.2,827.2 170.4,830.8 170.6,834.5 170.8,838.2 171.0,841.9 171.2,845.6 171.3,849.3 171.5,853.0 171.6,856.7 171.7,860.4 171.8,864.1 171.9,867.8 172.0,871.5 172.1,875.2 172.1,878.9 172.2,882.6 172.2,886.3 172.2,890.0 172.2,893.7 172.2,897.4 172.2,901.1 172.2,904.7 172.1,908.4 172.1,912.1 172.0,915.8 171.9,919.5 171.8,923.2 171.7,926.9 171.6,930.6 171.5,934.3 171.3,938.0" fill="none" stroke="#111" stroke-width="1.8" stroke-linejoin="round" stroke-linecap="round"/>
<polyline points="171.8,938.0 174.3,934.3 176.6,930.7 178.9,927.0 181.1,923.4 183.2,919.7 185.2,916.1 187.1,912.4 189.0,908.8 190.7,905.1 192.5,901.5 194.1,897.8 195.7,894.1 197.3,890.5 198.7,886.8 200.2,883.2 201.6,879.5 203.0,875.9 204.3,872.2 205.6,868.6 206.9,864.9 208.1,861.3 209.3,857.6 210.5,854.0 211.7,850.3 212.9,846.6 214.0,843.0 215.1,839.3 216.3,835.7 217.4,832.0 218.5,828.4 219.6,824.7 220.7,821.1 221.8,817.4 223.0,813.8 224.1,810.1 225.2,806.4 226.3,802.8 227.5,799.1 228.6,795.5 229.8,791.8 230.9,788.2 232.1,784.5 233.3,780.9 234.5,777.2 235.7,773.6 236.9,769.9 238.1,766.3 239.4,762.6 240.6,758.9 241.9,755.3 243.1,751.6 244.4,748.0 245.7,744.3 247.0,740.7 248.3,737.0 249.6,733.4 250.9,729.7 252.3,726.1 253.6,722.4" fill="none" stroke="#111" stroke-width="1.7" stroke-linejoin="round" stroke-linecap="round"/>
<polyline points="253.8,722.4 255.1,719.2 255.3,721.8 259.3,721.7" fill="none" stroke="#111" stroke-width="1.3" stroke-linejoin="round" stroke-linecap="round"/>
<polygon points="259.3,712.0 260.0,710.2 260.8,711.2 262.8,710.9 267.0,711.6 270.4,715.4 271.1,722.4 270.8,728.6 269.0,730.7 264.2,734.2 262.4,735.6 260.7,734.2 259.3,732.8" fill="#000" stroke="#000" stroke-width="0.6" stroke-linejoin="round"/>
<polyline points="269.0,730.7 275.0,739.7 283.3,752.6 308.3,802.8" fill="none" stroke="#111" stroke-width="1.1" stroke-linejoin="round" stroke-linecap="round"/>
<rect x="536.8" y="698.7" width="6.6" height="50" rx="3.3" fill="#000"/>
<ellipse cx="540.2" cy="703.4" rx="2.0" ry="2.6" fill="#fff"/>
<ellipse cx="540.5" cy="745.4" rx="1.8" ry="2.4" fill="#fff"/>
<polyline points="535.6,744.8 387.2,826.5" fill="none" stroke="#111" stroke-width="1.1" stroke-linejoin="round" stroke-linecap="round"/>
<polyline points="543.4,712.0 543.6,715.7 543.9,719.5 544.2,723.2 544.4,727.0 544.6,730.7 544.9,734.5 545.1,738.2 545.3,742.0 545.5,745.7 545.8,749.5 546.0,753.2 546.2,756.9 546.4,760.7 546.5,764.4 546.7,768.2 546.9,771.9 547.1,775.7 547.2,779.4 547.4,783.2 547.5,786.9 547.7,790.7 547.8,794.4 548.0,798.2 548.1,801.9 548.2,805.6 548.3,809.4 548.5,813.1 548.6,816.9 548.7,820.6 548.8,824.4 548.9,828.1 548.9,831.9 549.0,835.6 549.1,839.4 549.2,843.1 549.2,846.8 549.3,850.6 549.4,854.3 549.4,858.1 549.4,861.8 549.5,865.6 549.5,869.3 549.6,873.1 549.6,876.8 549.6,880.6 549.6,884.3 549.6,888.1 549.6,891.8 549.6,895.5 549.6,899.3 549.6,903.0 549.6,906.8 549.6,910.5 549.6,914.3 549.6,918.0 549.5,921.8 549.5,925.5 549.4,929.3 549.4,933.0" fill="none" stroke="#111" stroke-width="1.1" stroke-linejoin="round" stroke-linecap="round"/>
<rect x="622.7" y="704.8" width="12.3" height="40.4" rx="1.5" fill="#000"/>
<polyline points="549.6,931.9 551.5,928.4 553.5,924.9 555.3,921.3 557.2,917.8 558.9,914.3 560.7,910.8 562.3,907.3 564.0,903.7 565.6,900.2 567.2,896.7 568.7,893.2 570.2,889.7 571.6,886.1 573.0,882.6 574.4,879.1 575.8,875.6 577.1,872.1 578.4,868.5 579.6,865.0 580.9,861.5 582.1,858.0 583.3,854.5 584.5,850.9 585.6,847.4 586.7,843.9 587.8,840.4 588.9,836.9 590.0,833.3 591.0,829.8 592.1,826.3 593.1,822.8 594.1,819.2 595.2,815.7 596.2,812.2 597.2,808.7 598.1,805.2 599.1,801.6 600.1,798.1 601.1,794.6 602.1,791.1 603.1,787.6 604.1,784.0 605.0,780.5 606.0,777.0 607.0,773.5 608.1,770.0 609.1,766.4 610.1,762.9 611.1,759.4 612.2,755.9 613.3,752.4 614.4,748.8 615.5,745.3 616.6,741.8 617.7,738.3 618.9,734.8 620.1,731.2 621.3,727.7 622.5,724.2" fill="none" stroke="#111" stroke-width="1.3" stroke-linejoin="round" stroke-linecap="round"/>
<polyline points="634.6,745.0 660.0,797.4 673.8,826.5" fill="none" stroke="#111" stroke-width="1.1" stroke-linejoin="round" stroke-linecap="round"/>
</svg>
</body></html>
